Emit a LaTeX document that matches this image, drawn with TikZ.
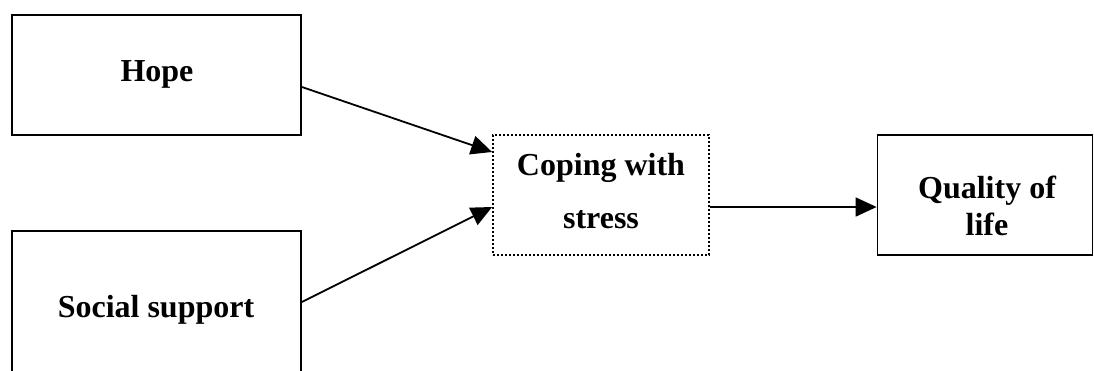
\documentclass[tikz,border=0pt]{standalone}
\usepackage{fontspec}
\setmainfont{Liberation Serif}
\usetikzlibrary{arrows.meta}
\begin{document}
\begin{tikzpicture}[x=1pt,y=-1pt,
  box/.style={draw, line width=1.8pt, rectangle, inner sep=0pt},
  dotbox/.style={draw, line width=1.8pt, dash pattern=on 2pt off 2pt, rectangle, inner sep=0pt},
  lbl/.style={font=\bfseries\fontsize{32}{37}\selectfont, align=center, anchor=base, inner sep=0pt},
  arr/.style={line width=1.8pt, -{Triangle[length=21pt,width=19pt]}}]
\useasboundingbox (0,0) rectangle (1094,370);
% boxes
\node[box, minimum width=289pt, minimum height=120pt] (hope) at (156.5,75) {};
\node[box, minimum width=289pt, minimum height=157pt] (social) at (156.5,309.5) {};
\node[dotbox, minimum width=216pt, minimum height=120pt] (cope) at (601,195) {};
\node[box, minimum width=215pt, minimum height=120pt] (qol) at (985,195) {};
% labels
\node[lbl] (hopeT) at (157,81) {Hope};
\node[lbl] (socialT) at (156,317) {Social support};
\node[lbl, font=\bfseries\fontsize{32}{53}\selectfont] (copeT) at (601,228) {Coping with\\stress};
\node[lbl] (qolT) at (987,235) {Quality of\\life};
% connectors
\draw[arr] ([yshift=-12pt]hope.east) -- ([yshift=43pt]cope.west);
\draw[arr] ([yshift=7.5pt]social.east) -- ([yshift=-12pt]cope.west);
\draw[arr] ([yshift=-12pt]cope.east) -- ([yshift=-12pt]qol.west);
\end{tikzpicture}
\end{document}
